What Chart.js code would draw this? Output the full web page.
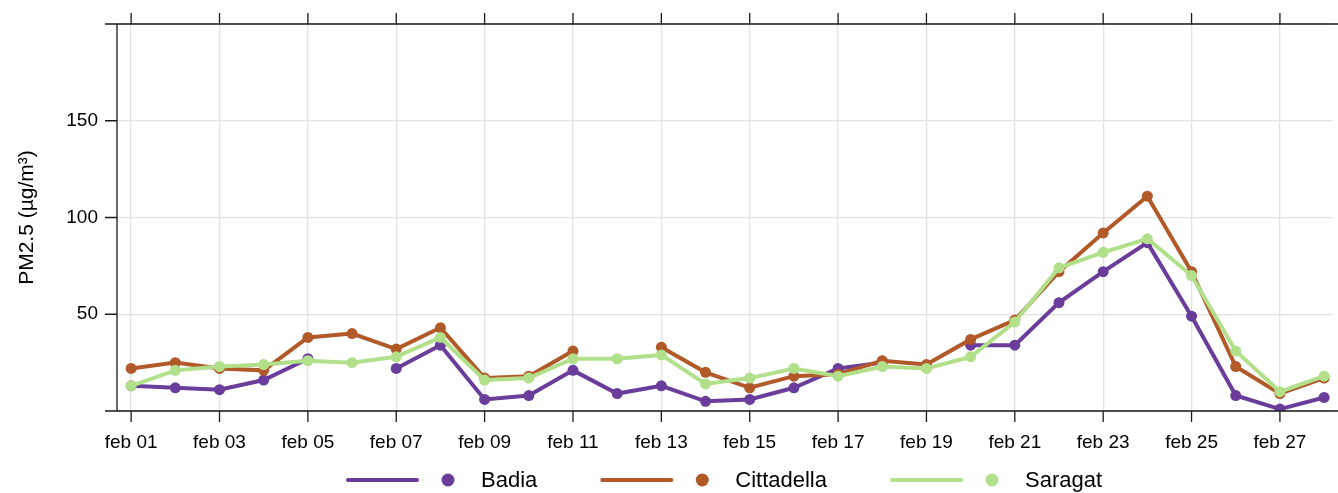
<!DOCTYPE html>
<html>
<head>
<meta charset="utf-8">
<script src="https://cdn.jsdelivr.net/npm/chart.js@4"></script>
<style>
  html, body { margin: 0; padding: 0; background: #fff; overflow: hidden; }
  #wrap { width: 1338px; height: 493px; position: relative; }
</style>
</head>
<body>
<div id="wrap"><canvas id="pm25"></canvas></div>
<script>
// giorni di febbraio
const days = ['feb 01', 'feb 02', 'feb 03', 'feb 04', 'feb 05', 'feb 06', 'feb 07',
    'feb 08', 'feb 09', 'feb 10', 'feb 11', 'feb 12', 'feb 13', 'feb 14',
    'feb 15', 'feb 16', 'feb 17', 'feb 18', 'feb 19', 'feb 20', 'feb 21',
    'feb 22', 'feb 23', 'feb 24', 'feb 25', 'feb 26', 'feb 27', 'feb 28'];

const badia = [13, 12, 11, 16, 27, null, 22, 34, 6, 8, 21, 9, 13, 5,
    6, 12, 22, 25, null, 34, 34, 56, 72, 87, 49, 8, 1, 7];
const cittadella = [22, 25, 22, 21, 38, 40, 32, 43, 17, 18, 31, null, 33, 20,
    12, 18, 19, 26, 24, 37, 47, 72, 92, 111, 72, 23, 9, 17];
const saragat = [13, 21, 23, 24, 26, 25, 28, 38, 16, 17, 27, 27, 29, 14,
    17, 22, 18, 23, 22, 28, 46, 74, 82, 89, 70, 31, 10, 18];

const yTicks = [50, 100, 150];

const colors = { badia: '#6a3d9a', cittadella: '#b15928', saragat: '#b2df8a' };
const FONT = 'Liberation Sans, Arial, Helvetica, sans-serif';

function toPoints(values) {
    return values.map((v, i) => ({ x: i, y: v }));
}

function makeDataset(label, values, color, order) {
    return {
        label: label,
        data: toPoints(values),
        borderColor: color,
        backgroundColor: color,
        borderWidth: 4,
        pointRadius: 5.5,
        pointHoverRadius: 5.5,
        pointBorderWidth: 0,
        tension: 0,
        spanGaps: false,
        order: order
    };
}

// assi stile base R: linee che si incrociano, tacche in alto e a sinistra
const axesPlugin = {
    id: 'axesPlugin',
    afterDraw(chart) {
        const ctx = chart.ctx;
        const area = chart.chartArea;
        const xs = chart.scales.x;
        const ys = chart.scales.y;
        ctx.save();
        ctx.strokeStyle = '#1a1a1a';
        ctx.lineWidth = 1.3;
        ctx.beginPath();
        ctx.moveTo(105, area.top); ctx.lineTo(chart.width, area.top);
        ctx.moveTo(105, area.bottom); ctx.lineTo(chart.width, area.bottom);
        ctx.moveTo(area.left, area.top); ctx.lineTo(area.left, area.bottom);
        for (let i = 0; i < days.length; i += 2) {
            const px = xs.getPixelForValue(i);
            ctx.moveTo(px, area.top - 11); ctx.lineTo(px, area.top);
            ctx.moveTo(px, area.bottom); ctx.lineTo(px, area.bottom + 11);
        }
        yTicks.forEach(v => {
            const py = ys.getPixelForValue(v);
            ctx.moveTo(area.left - 12, py); ctx.lineTo(area.left, py);
        });
        ctx.stroke();

        // legenda
        const items = [
            { label: 'Badia', color: colors.badia },
            { label: 'Cittadella', color: colors.cittadella },
            { label: 'Saragat', color: colors.saragat }
        ];
        ctx.font = '22px ' + FONT;
        ctx.textBaseline = 'middle';
        ctx.textAlign = 'left';
        const ly = 480;
        let x = 348;
        items.forEach(it => {
            ctx.strokeStyle = it.color;
            ctx.lineWidth = 4;
            ctx.lineCap = 'round';
            ctx.beginPath();
            ctx.moveTo(x, ly); ctx.lineTo(x + 69, ly);
            ctx.stroke();
            ctx.fillStyle = it.color;
            ctx.beginPath();
            ctx.arc(x + 100, ly, 6.5, 0, Math.PI * 2);
            ctx.fill();
            ctx.fillStyle = '#000';
            ctx.fillText(it.label, x + 133, ly + 1);
            x += 133 + ctx.measureText(it.label).width + 65;
        });
        ctx.restore();
    }
};

const chart = new Chart(document.getElementById('pm25'), {
    type: 'line',
    data: {
        datasets: [
            makeDataset('Badia', badia, colors.badia, 3),
            makeDataset('Cittadella', cittadella, colors.cittadella, 2),
            makeDataset('Saragat', saragat, colors.saragat, 1)
        ]
    },
    options: {
        responsive: true,
        maintainAspectRatio: false,
        animation: false,
        layout: { padding: { top: 24, right: 0, left: 0, bottom: 0 } },
        plugins: {
            legend: { display: false },
            tooltip: { enabled: false }
        },
        scales: {
            x: {
                type: 'linear',
                min: -0.32,
                max: 27.19,
                afterFit: function (scale) {
                    scale.height = 82;
                    scale.paddingLeft = 0;
                    scale.paddingRight = 0;
                },
                border: { display: false },
                grid: { color: '#e2e2e2', lineWidth: 1.3, drawTicks: false },
                ticks: {
                    stepSize: 2,
                    includeBounds: false,
                    autoSkip: false,
                    maxRotation: 0,
                    padding: 20,
                    color: '#000',
                    font: { family: FONT, size: 19 },
                    callback: function (v) { return days[v] || ''; }
                }
            },
            y: {
                min: 0,
                max: 200,
                afterFit: function (scale) {
                    scale.width = 117;
                    scale.paddingTop = 0;
                    scale.paddingBottom = 0;
                },
                border: { display: false },
                grid: { color: '#e2e2e2', lineWidth: 1.3, drawTicks: false },
                ticks: {
                    stepSize: 50,
                    padding: 19,
                    color: '#000',
                    font: { family: FONT, size: 19 },
                    callback: function (v) { return yTicks.includes(v) ? String(v) : ''; }
                },
                title: {
                    display: true,
                    text: 'PM2.5 (µg/m³)',
                    color: '#000',
                    font: { family: FONT, size: 21 },
                    padding: { top: 15, bottom: 4 }
                }
            }
        }
    },
    plugins: [axesPlugin]
});
</script>
</body>
</html>
